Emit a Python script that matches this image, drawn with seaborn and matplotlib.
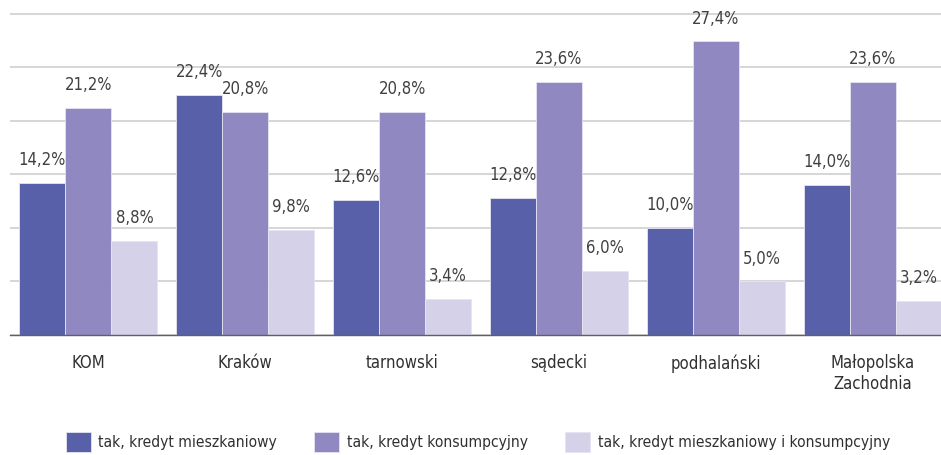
import matplotlib
matplotlib.use("Agg")
from matplotlib import pyplot as plt
from matplotlib.ticker import FixedLocator
import pandas as pd
import seaborn as sns

regions = ["KOM", "Kraków", "tarnowski", "sądecki", "podhalański", "Małopolska\nZachodnia"]
series = ["tak, kredyt mieszkaniowy", "tak, kredyt konsumpcyjny",
          "tak, kredyt mieszkaniowy i konsumpcyjny"]
mieszkaniowy = [14.2, 22.4, 12.6, 12.8, 10.0, 14.0]
konsumpcyjny = [21.2, 20.8, 20.8, 23.6, 27.4, 23.6]
oba = [8.8, 9.8, 3.4, 6.0, 5.0, 3.2]

rows = []
for name, vals in zip(series, [mieszkaniowy, konsumpcyjny, oba]):
    for r, v in zip(regions, vals):
        rows.append({"region": r, "seria": name, "wartosc": v})
df = pd.DataFrame(rows)

sns.set_style("white")
plt.rcParams["font.family"] = ["DejaVu Sans"]
plt.rcParams["font.stretch"] = "condensed"

colors = ["#5860a9", "#9089c1", "#d5d1e8"]

fig = plt.figure(figsize=(9.41, 4.55), dpi=100)
ax = fig.add_axes([10 / 941, 1 - 335 / 455, 1.0, (335 - 13) / 455])
sns.barplot(data=df, x="region", y="wartosc", hue="seria", palette=colors, saturation=1,
            width=0.88, gap=0, edgecolor="#e6e4f2", linewidth=0.6, ax=ax)

for cont in ax.containers:
    ax.bar_label(cont, labels=[f"{v:.1f}%".replace(".", ",") for v in cont.datavalues],
                 padding=10, fontsize=12, color="#404040")

ax.set_ylim(0, 30.05)
ax.set_xlim(-0.5, 5.5)
ax.set_yticks([0, 5, 10, 15, 20, 25, 30])
ax.yaxis.grid(True, color="#d0d0d0", linewidth=1.2)
ax.set_axisbelow(True)
ax.tick_params(axis="y", left=False, labelleft=False)
ax.set_xlabel("")
ax.set_ylabel("")
ax.tick_params(axis="x", which="major", length=0, labelsize=12, labelcolor="#303030", pad=14)
ax.xaxis.set_minor_locator(FixedLocator([-0.5, 0.5, 1.5, 2.5, 3.5, 4.5]))
ax.tick_params(axis="x", which="minor", length=6, width=1, color="#606060", direction="out")
for s in ["left", "right", "top"]:
    ax.spines[s].set_visible(False)
ax.spines["bottom"].set_color("#606060")
ax.spines["bottom"].set_linewidth(1)

handles, labels = ax.get_legend_handles_labels()
ax.legend_.remove()
fig.legend(handles, labels, loc="lower center", bbox_to_anchor=(0.508, -0.025), ncol=3,
           frameon=False, fontsize=11.2, handlelength=1.6, handleheight=1.6,
           columnspacing=2.4, handletextpad=0.5, labelcolor="#303030")

fig.savefig("out.png", dpi=100)
